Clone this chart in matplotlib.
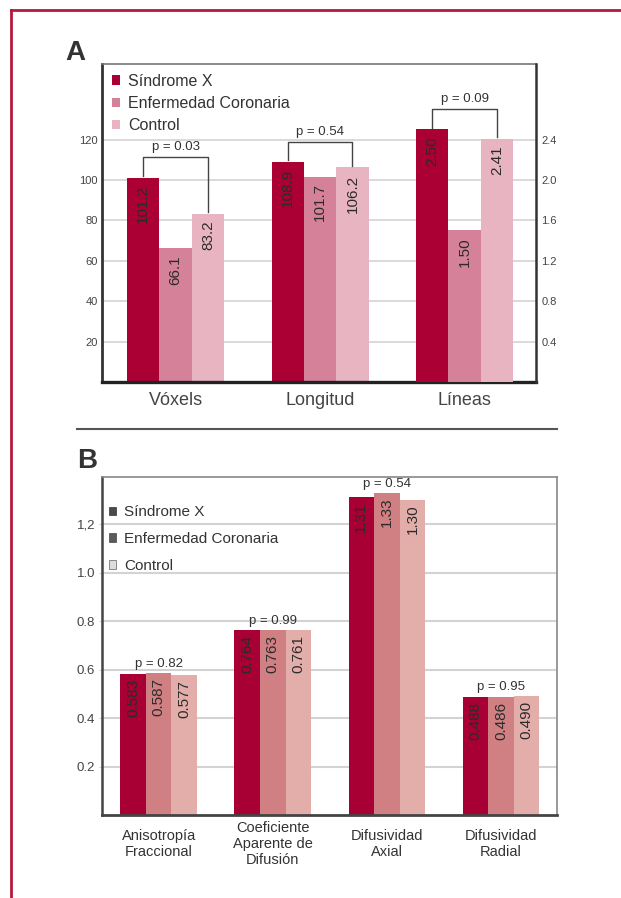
import matplotlib
matplotlib.use('Agg')
import matplotlib.pyplot as plt
from matplotlib.patches import Patch
from matplotlib.lines import Line2D
import numpy as np

plt.rcParams['font.family'] = ['Liberation Sans', 'DejaVu Sans']

# Panel A data
cats_a = ['Vóxels', 'Longitud', 'Líneas']
sx_a = [101.2, 108.9, 2.50]
ec_a = [66.1, 101.7, 1.50]
ctl_a = [83.2, 106.2, 2.41]
fmt_a = ['{:.1f}', '{:.1f}', '{:.2f}']
p_a = ['p = 0.03', 'p = 0.54', 'p = 0.09']
use_right_a = [False, False, True]
yticks_a = [20, 40, 60, 80, 100, 120]
yticks_a_right = [0.4, 0.8, 1.2, 1.6, 2.0, 2.4]

# Panel B data
cats_b = ['Anisotropía\nFraccional', 'Coeficiente\nAparente de\nDifusión',
          'Difusividad\nAxial', 'Difusividad\nRadial']
sx_b = [0.583, 0.764, 1.31, 0.488]
ec_b = [0.587, 0.763, 1.33, 0.486]
ctl_b = [0.577, 0.761, 1.30, 0.490]
fmt_b = ['{:.3f}', '{:.3f}', '{:.2f}', '{:.3f}']
p_b = ['p = 0.82', 'p = 0.99', 'p = 0.54', 'p = 0.95']
yticks_b = [0.2, 0.4, 0.6, 0.8, 1.0, 1.2]
yticklabels_b = ['0.2', '0.4', '0.6', '0.8', '1.0', '1,2']

groups = ['Síndrome X', 'Enfermedad Coronaria', 'Control']
colors_a = ['#ab0034', '#d5819a', '#e8b4c2']
colors_b = ['#a80034', '#d07f82', '#e3aeaa']

txt = '#2b2b2b'
grid_c = '#d3d3d3'

fig = plt.figure(figsize=(6.21, 8.98), dpi=100)

# red frame
fig.add_artist(Line2D([11 / 621, 1], [1 - 10 / 898, 1 - 10 / 898], color='#b5183f', lw=2))
fig.add_artist(Line2D([11 / 621, 11 / 621], [0, 1 - 10 / 898], color='#b5183f', lw=2))
# separator
fig.add_artist(Line2D([77 / 621, 557 / 621], [1 - 429 / 898, 1 - 429 / 898], color='#555555', lw=1.5))

fig.text(65 / 621, 1 - 60 / 898, 'A', fontsize=20, fontweight='bold', color='#333333', va='baseline')
fig.text(77 / 621, 1 - 468 / 898, 'B', fontsize=20, fontweight='bold', color='#333333', va='baseline')

# ---------------- Panel A ----------------
ax = fig.add_axes([102 / 621, 1 - 382 / 898, 434 / 621, 318 / 898])
ax2 = ax.twinx()
ymax_a = 157.4
ax.set_ylim(0, ymax_a)
ax2.set_ylim(0, ymax_a / 50)
ax.set_xlim(-0.51, 2.495)

w = 0.224
x = np.arange(len(cats_a))
series_a = [sx_a, ec_a, ctl_a]
for i, cat in enumerate(cats_a):
    target = ax2 if use_right_a[i] else ax
    tops = []
    for j, s in enumerate(series_a):
        xi = x[i] + (j - 1) * w
        target.bar(xi, s[i], width=w, color=colors_a[j], zorder=2)
        target.annotate(fmt_a[i].format(s[i]), (xi, s[i]), xytext=(0, -5),
                        textcoords='offset points', rotation=90, ha='center', va='top',
                        fontsize=11, color=txt, zorder=3)
        tops.append(s[i])
    pad = 10 / 50 if use_right_a[i] else 10
    yb = max(tops) + pad
    x0, x1 = x[i] - w, x[i] + w
    target.plot([x0, x0, x1, x1], [tops[0] + pad * 0.08, yb, yb, tops[2] + pad * 0.08],
                color='#444444', lw=1, zorder=3)
    target.annotate(p_a[i], ((x0 + x1) / 2, yb), xytext=(0, 3), textcoords='offset points',
                    ha='center', va='bottom', fontsize=9.5, color='#333333')

ax.set_yticks(yticks_a)
ax.set_yticklabels([str(t) for t in yticks_a])
ax2.set_yticks(yticks_a_right)
ax2.set_yticklabels(['{:.1f}'.format(t) for t in yticks_a_right])
ax.yaxis.grid(True, color=grid_c, lw=1.2)
ax.set_axisbelow(True)
ax.tick_params(axis='y', length=0, pad=3, labelsize=8, labelcolor='#444444')
ax2.tick_params(axis='y', length=0, pad=4, labelsize=8, labelcolor='#444444')
ax.set_xticks(x)
ax.set_xticklabels(cats_a)
ax.tick_params(axis='x', length=0, pad=7, labelsize=13, labelcolor='#444444')

for a in (ax, ax2):
    a.spines['left'].set_visible(a is ax)
    a.spines['bottom'].set_visible(a is ax)
    a.spines['top'].set_visible(a is ax)
    a.spines['right'].set_visible(a is ax2)
ax.spines['left'].set_color('#333333')
ax.spines['left'].set_linewidth(2)
ax.spines['bottom'].set_color('#222222')
ax.spines['bottom'].set_linewidth(2.4)
ax.spines['top'].set_color('#777777')
ax.spines['top'].set_linewidth(1.2)
ax2.spines['right'].set_color('#333333')
ax2.spines['right'].set_linewidth(1.8)

handles_a = [Patch(facecolor=c, edgecolor='none') for c in colors_a]
leg = ax2.legend(handles_a, groups, loc='upper left', bbox_to_anchor=(0.022, 0.969),
                 frameon=False, fontsize=11.5, handlelength=0.55, handleheight=0.55,
                 handletextpad=0.5, labelspacing=0.45, borderpad=0, borderaxespad=0)
for t in leg.get_texts():
    t.set_color('#333333')

# ---------------- Panel B ----------------
bx = fig.add_axes([102 / 621, 1 - 815 / 898, 455 / 621, 338 / 898])
bx.set_ylim(0, 1.394)
bx.set_xlim(-0.496, 3.49)
xb = np.arange(len(cats_b))
series_b = [sx_b, ec_b, ctl_b]
for i, cat in enumerate(cats_b):
    tops = []
    for j, s in enumerate(series_b):
        xi = xb[i] + (j - 1) * w
        bx.bar(xi, s[i], width=w, color=colors_b[j], zorder=2)
        bx.annotate(fmt_b[i].format(s[i]), (xi, s[i]), xytext=(0, -3.5),
                    textcoords='offset points', rotation=90, ha='center', va='top',
                    fontsize=11, color=txt, zorder=3)
        tops.append(s[i])
    bx.annotate(p_b[i], (xb[i], max(tops)), xytext=(0, 2), textcoords='offset points',
                ha='center', va='bottom', fontsize=9.5, color='#333333')

bx.set_yticks(yticks_b)
bx.set_yticklabels(yticklabels_b)
bx.yaxis.grid(True, color=grid_c, lw=1.5)
bx.set_axisbelow(True)
bx.tick_params(axis='y', length=2, color=grid_c, pad=3, labelsize=9.5, labelcolor='#444444')
bx.set_xticks(xb)
bx.set_xticklabels(cats_b, linespacing=1.2)
bx.tick_params(axis='x', length=0, pad=21, labelsize=10.5, labelcolor='#333333')
for lab in bx.get_xticklabels():
    lab.set_va('center')

bx.spines['left'].set_color('#444444')
bx.spines['left'].set_linewidth(1.8)
bx.spines['bottom'].set_color('#444444')
bx.spines['bottom'].set_linewidth(2)
bx.spines['top'].set_color('#888888')
bx.spines['top'].set_linewidth(1.2)
bx.spines['right'].set_color('#888888')
bx.spines['right'].set_linewidth(1.2)

handles_b = [Patch(facecolor='#4a4a4a', edgecolor='#333333', lw=0.5),
             Patch(facecolor='#5a5a5a', edgecolor='#444444', lw=0.5),
             Patch(facecolor='#dddddd', edgecolor='#888888', lw=0.7)]
legb = bx.legend(handles_b, groups, loc='upper left', bbox_to_anchor=(0.016, 0.917),
                 frameon=False, fontsize=11, handlelength=0.45, handleheight=0.45,
                 handletextpad=0.5, labelspacing=0.85, borderpad=0, borderaxespad=0)
for t in legb.get_texts():
    t.set_color('#333333')

fig.savefig('out.png', dpi=100)
